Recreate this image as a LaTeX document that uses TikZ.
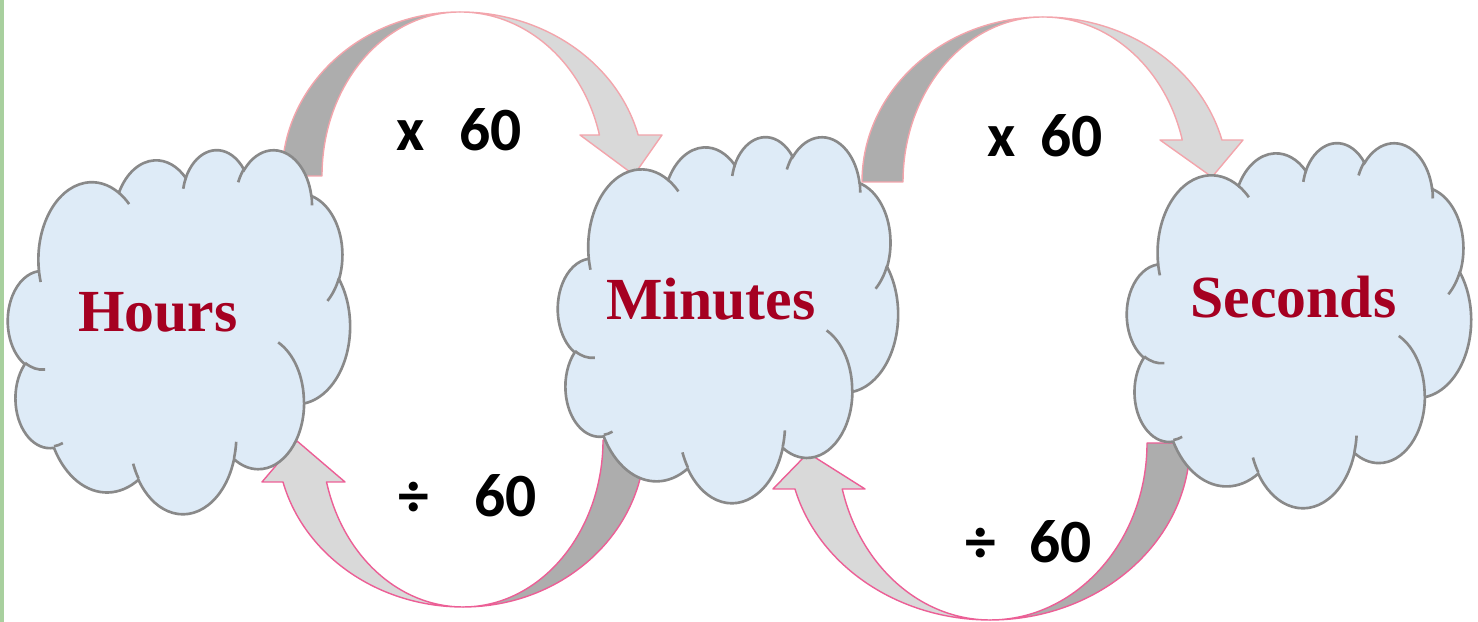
\documentclass[tikz,border=0pt]{standalone}
\usepackage{fontspec}
\usepackage{tikz}
\usetikzlibrary{calc}
\newfontfamily\namefont{Liberation Serif}
\newfontfamily\factorfont{Carlito}
\definecolor{cloudblue}{RGB}{222,235,247}
\definecolor{cloudgray}{RGB}{137,137,137}
\definecolor{namered}{RGB}{165,0,33}
\definecolor{banddark}{RGB}{173,173,173}
\definecolor{bandlight}{RGB}{217,217,217}
\definecolor{pinktop}{RGB}{243,165,172}
\definecolor{pinkbot}{RGB}{236,95,150}
\definecolor{leftbar}{RGB}{168,208,158}
\tikzset{
    cloudbox/.style={draw=cloudgray, line width=0.75pt, fill=cloudblue},
    cloudedge/.style={draw=cloudgray, line width=0.75pt},
    darkband/.style={fill=banddark, draw=#1, line width=0.4pt, line join=round},
    lightband/.style={fill=bandlight, draw=#1, line width=0.4pt, line join=round},
    cloudname/.style={text=namered, inner sep=0pt, anchor=base,
        font=\namefont\bfseries\fontsize{17}{20}\selectfont},
    factor/.style={inner sep=0pt, anchor=base,
        font=\factorfont\bfseries\fontsize{17.5}{21}\selectfont}
}

% one bump of the cloud: x radius, y radius, start angle, sweep (angles seen on the ellipse)
\newcommand{\carc}[4]{arc[x radius=#1, y radius=#2,
    start angle={atan2(#1*sin(#3),#2*cos(#3))},
    delta angle={Mod(atan2(#1*sin(#3+#4),#2*cos(#3+#4))-atan2(#1*sin(#3),#2*cos(#3)),360)}]}

% cloud in a 43.2 x 43.2 box, y pointing down
\newcommand{\cloudshape}{%
    \draw[cloudbox] (3.900,14.370)
        \carc{6.753}{9.190}{-190.4875}{123.7805}
        \carc{5.333}{7.267}{-144.1024}{89.9452}
        \carc{4.365}{5.945}{-145.8079}{99.7230}
        \carc{4.857}{6.595}{-130.9861}{117.2417}
        \carc{5.333}{7.273}{-78.7089}{109.0269}
        \carc{6.775}{9.220}{-46.2673}{130.2690}
        \carc{5.785}{7.867}{0.6250}{114.0333}
        \carc{6.752}{9.215}{22.4516}{115.1726}
        \carc{7.720}{10.543}{66.2426}{75.7110}
        \carc{4.360}{5.918}{-274.9421}{146.7356}
        \carc{4.345}{5.945}{-246.8285}{152.5189} -- cycle;
    \draw[cloudedge]
        (4.693,26.177) \carc{4.345}{5.945}{86.7420}{26.4295}
        (6.928,34.899) \carc{4.360}{5.918}{73.6105}{11.4475}
        (16.478,39.090) \carc{6.752}{9.215}{137.6242}{14.0811}
        (28.827,34.751) \carc{6.752}{9.215}{6.4533}{15.9984}
        (34.129,22.954) \carc{5.785}{7.867}{-70.2924}{70.9174}
        (41.798,15.354) \carc{5.333}{7.273}{30.3180}{27.7515}
        (38.324,5.426) \carc{4.857}{6.595}{-13.7443}{14.8589}
        (29.078,3.952) \carc{4.857}{6.595}{-149.1815}{18.1954}
        (22.141,4.720) \carc{4.365}{5.945}{-163.4943}{17.6864}
        (14.000,5.192) \carc{6.753}{9.190}{-66.7070}{12.3194}
        (4.127,15.789) \carc{6.753}{9.190}{157.6544}{11.8582};
}

\begin{document}
\begin{tikzpicture}
    \useasboundingbox (0,0) rectangle (14.78,6.22);
    \fill[leftbar] (0,0) rectangle (0.045,6.22);

    % upper arrows
    \coordinate (cA) at (4.60,4.46);
    \draw[darkband=pinktop] ($(cA)+(-1.78,0)$) arc[start angle=180, end angle=90, x radius=1.78, y radius=1.64]
        arc[start angle=90, end angle=180, x radius=1.38, y radius=1.64] -- cycle;
    \draw[lightband=pinktop] ($(cA)+(0,1.64)$) arc[start angle=90, end angle=14.48, x radius=1.84, y radius=1.64]
        -- (6.62,4.87) -- (6.34,4.47) -- (5.80,4.87) -- ($(cA)+(14.48:1.44 and 1.64)$)
        arc[start angle=14.48, end angle=90, x radius=1.44, y radius=1.64] -- cycle;

    \coordinate (cB) at (10.43,4.40);
    \draw[darkband=pinktop] ($(cB)+(-1.81,0)$) arc[start angle=180, end angle=90, x radius=1.81, y radius=1.65]
        arc[start angle=90, end angle=180, x radius=1.40, y radius=1.65] -- cycle;
    \draw[lightband=pinktop] ($(cB)+(0,1.65)$) arc[start angle=90, end angle=14.75, x radius=1.85, y radius=1.65]
        -- (12.43,4.82) -- (12.12,4.45) -- (11.60,4.82) -- ($(cB)+(14.75:1.44 and 1.65)$)
        arc[start angle=14.75, end angle=90, x radius=1.44, y radius=1.65] -- cycle;

    % lower arrows
    \coordinate (cC) at (4.63,1.82);
    \draw[darkband=pinkbot] ($(cC)+(1.82,0)$) arc[start angle=0, end angle=-90, x radius=1.82, y radius=1.67]
        arc[start angle=-90, end angle=0, x radius=1.40, y radius=1.67] -- cycle;
    \draw[lightband=pinkbot] ($(cC)+(0,-1.67)$) arc[start angle=270, end angle=194.57, x radius=1.86, y radius=1.67]
        -- (2.62,1.40) -- (2.97,1.81) -- (3.45,1.40) -- ($(cC)+(194.57:1.41 and 1.67)$)
        arc[start angle=194.57, end angle=270, x radius=1.41, y radius=1.67] -- cycle;

    \coordinate (cD) at (9.90,1.79);
    \draw[darkband=pinkbot] ($(cD)+(2.00,0)$) arc[start angle=0, end angle=-90, x radius=2.00, y radius=1.77]
        arc[start angle=-90, end angle=0, x radius=1.57, y radius=1.77] -- cycle;
    \draw[lightband=pinkbot] ($(cD)+(0,-1.77)$) arc[start angle=270, end angle=195.06, x radius=2.02, y radius=1.77]
        -- (7.73,1.33) -- (8.08,1.69) -- (8.65,1.33) -- ($(cD)+(195.06:1.53 and 1.77)$)
        arc[start angle=195.06, end angle=270, x radius=1.53, y radius=1.77] -- cycle;

    % clouds
    \begin{scope}[shift={(0.08,4.73)}, xscale=0.07917, yscale=-0.08426]
        \cloudshape
    \end{scope}
    \begin{scope}[shift={(5.58,4.86)}, xscale=0.07870, yscale=-0.08472]
        \cloudshape
    \end{scope}
    \begin{scope}[shift={(11.27,4.80)}, xscale=0.07963, yscale=-0.08449]
        \cloudshape
    \end{scope}

    \node[cloudname] (hours) at (1.58,2.90) {Hours};
    \node[cloudname] (minutes) at (7.11,3.02) {Minutes};
    \node[cloudname] (seconds) at (12.935,3.04) {Seconds};

    \node[factor] (mulA) at (4.59,4.71) {x\hspace{10pt}60};
    \node[factor] (mulB) at (10.455,4.65) {x\hspace{7pt}60};
    \node[factor] (divA) at (4.675,1.05) {÷\hspace{13pt}60};
    \node[factor] (divB) at (10.285,0.59) {÷\hspace{9.5pt}60};
\end{tikzpicture}
\end{document}
